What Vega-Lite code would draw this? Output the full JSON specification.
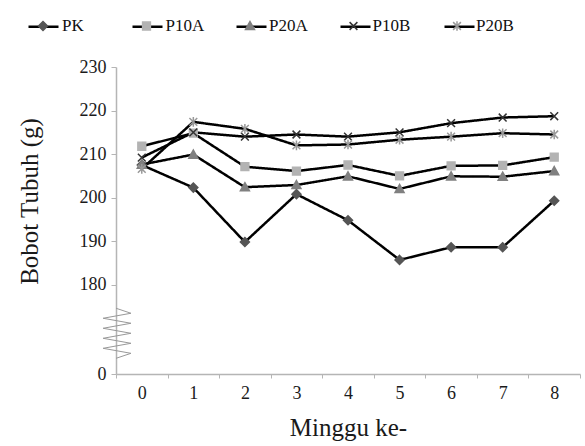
{
  "$schema": "https://vega.github.io/schema/vega-lite/v6.json",
  "width": 464,
  "height": 307,
  "autosize": "none",
  "padding": {"left": 116, "top": 67, "right": 5, "bottom": 72},
  "background": "white",
  "config": {"view": {"stroke": null}, "font": "Liberation Serif, Times New Roman, serif"},
  "datasets": {
    "main": [
      {"series": "PK", "week": 0, "value": 207.5}, {"series": "PK", "week": 1, "value": 202.3}, {"series": "PK", "week": 2, "value": 189.8}, {"series": "PK", "week": 3, "value": 200.8}, {"series": "PK", "week": 4, "value": 194.8}, {"series": "PK", "week": 5, "value": 185.7}, {"series": "PK", "week": 6, "value": 188.6}, {"series": "PK", "week": 7, "value": 188.6}, {"series": "PK", "week": 8, "value": 199.3},
      {"series": "P10A", "week": 0, "value": 211.8}, {"series": "P10A", "week": 1, "value": 214.8}, {"series": "P10A", "week": 2, "value": 207.1}, {"series": "P10A", "week": 3, "value": 206.1}, {"series": "P10A", "week": 4, "value": 207.5}, {"series": "P10A", "week": 5, "value": 205.0}, {"series": "P10A", "week": 6, "value": 207.3}, {"series": "P10A", "week": 7, "value": 207.4}, {"series": "P10A", "week": 8, "value": 209.3},
      {"series": "P20A", "week": 0, "value": 207.6}, {"series": "P20A", "week": 1, "value": 209.9}, {"series": "P20A", "week": 2, "value": 202.4}, {"series": "P20A", "week": 3, "value": 202.9}, {"series": "P20A", "week": 4, "value": 204.9}, {"series": "P20A", "week": 5, "value": 202.0}, {"series": "P20A", "week": 6, "value": 204.9}, {"series": "P20A", "week": 7, "value": 204.8}, {"series": "P20A", "week": 8, "value": 206.1},
      {"series": "P10B", "week": 0, "value": 209.2}, {"series": "P10B", "week": 1, "value": 215.0}, {"series": "P10B", "week": 2, "value": 214.0}, {"series": "P10B", "week": 3, "value": 214.5}, {"series": "P10B", "week": 4, "value": 214.0}, {"series": "P10B", "week": 5, "value": 215.0}, {"series": "P10B", "week": 6, "value": 217.1}, {"series": "P10B", "week": 7, "value": 218.4}, {"series": "P10B", "week": 8, "value": 218.7},
      {"series": "P20B", "week": 0, "value": 206.6}, {"series": "P20B", "week": 1, "value": 217.4}, {"series": "P20B", "week": 2, "value": 215.8}, {"series": "P20B", "week": 3, "value": 212.0}, {"series": "P20B", "week": 4, "value": 212.2}, {"series": "P20B", "week": 5, "value": 213.3}, {"series": "P20B", "week": 6, "value": 214.0}, {"series": "P20B", "week": 7, "value": 214.8}, {"series": "P20B", "week": 8, "value": 214.5}
    ],
    "zig": [
      {"i": 0, "x": -0.5, "value": 174.6},
      {"i": 1, "x": -0.21, "value": 173.45},
      {"i": 2, "x": -0.75, "value": 172.3},
      {"i": 3, "x": -0.21, "value": 171.15},
      {"i": 4, "x": -0.75, "value": 170.0},
      {"i": 5, "x": -0.21, "value": 168.85},
      {"i": 6, "x": -0.75, "value": 167.7},
      {"i": 7, "x": -0.21, "value": 166.55},
      {"i": 8, "x": -0.75, "value": 165.4},
      {"i": 9, "x": -0.21, "value": 164.25},
      {"i": 10, "x": -0.5, "value": 163.1}
    ]
  },
  "resolve": {"scale": {"x": "independent"}},
  "layer": [
    {
      "data": {"name": "main"},
      "mark": {"type": "line", "color": "black", "strokeWidth": 2.5},
      "encoding": {
        "x": {
          "field": "week", "type": "ordinal",
          "scale": {"type": "band", "paddingInner": 0, "paddingOuter": 0},
          "axis": {
            "title": "Minggu ke-", "tickBand": "extent", "labelAngle": 0,
            "domainColor": "#b5b5b5", "domainWidth": 1.5, "tickColor": "#b5b5b5", "tickSize": 4,
            "labelFont": "Liberation Serif, Times New Roman, serif", "labelFontSize": 18, "labelColor": "#1a1a1a", "labelPadding": 6,
            "titleFont": "Liberation Serif, Times New Roman, serif", "titleFontSize": 25, "titleFontWeight": "normal", "titleColor": "#1a1a1a", "titlePadding": 13
          }
        },
        "y": {
          "field": "value", "type": "quantitative",
          "scale": {"domain": [159.5, 230], "zero": false, "nice": false},
          "axis": {
            "title": "Bobot Tubuh (g)", "values": [159.5, 180, 190, 200, 210, 220, 230],
            "labelExpr": "datum.value < 170 ? '0' : datum.label", "grid": false,
            "domainColor": "#b5b5b5", "domainWidth": 1.5, "tickColor": "#b5b5b5", "tickSize": 5,
            "labelFont": "Liberation Serif, Times New Roman, serif", "labelFontSize": 18, "labelColor": "#1a1a1a", "labelPadding": 5,
            "titleFont": "Liberation Serif, Times New Roman, serif", "titleFontSize": 25, "titleFontWeight": "normal", "titleColor": "#1a1a1a",
            "titlePadding": 37, "titleY": 134
          }
        },
        "strokeDash": {
          "field": "series", "type": "nominal",
          "sort": ["PK", "P10A", "P20A", "P10B", "P20B"],
          "scale": {"range": [[1, 0], [1, 0], [1, 0], [1, 0], [1, 0]]},
          "legend": {
            "orient": "none", "legendX": -89, "legendY": -57, "direction": "horizontal", "title": null,
            "symbolType": "stroke", "symbolSize": 900, "symbolStrokeColor": "black", "symbolStrokeWidth": 2.5,
            "labelExpr": "''", "labelFontSize": 17, "labelOffset": 0,
            "gridAlign": "all", "columnPadding": 63, "padding": 0, "zindex": 1
          }
        }
      }
    },
    {
      "data": {"name": "main"},
      "mark": {"type": "point", "filled": true, "size": 900, "strokeWidth": 1.5, "opacity": 1},
      "encoding": {
        "x": {"field": "week", "type": "ordinal", "scale": {"type": "band", "paddingInner": 0, "paddingOuter": 0}, "axis": null},
        "y": {"field": "value", "type": "quantitative", "title": "Bobot Tubuh (g)"},
        "shape": {
          "field": "series", "type": "nominal",
          "scale": {
            "domain": ["PK", "P10A", "P20A", "P10B", "P20B"],
            "range": [
              "M0,-0.3L0.3,0L0,0.3L-0.3,0Z",
              "M-0.26,-0.26H0.26V0.26H-0.26Z",
              "M0,-0.3L0.3,0.24H-0.3Z",
              "M-0.26,-0.26L0.26,0.26M-0.26,0.26L0.26,-0.26",
              "M-0.26,-0.26L0.26,0.26M-0.26,0.26L0.26,-0.26M0,-0.32V0.32"
            ]
          },
          "legend": {
            "orient": "none", "legendX": -89, "legendY": -57, "direction": "horizontal", "title": null,
            "symbolSize": 900, "symbolStrokeWidth": 1.5, "symbolOpacity": 1,
            "labelFont": "Liberation Serif, Times New Roman, serif", "labelFontSize": 17, "labelColor": "#111", "labelOffset": 3,
            "gridAlign": "all", "columnPadding": 29.5, "padding": 0, "zindex": 2
          }
        },
        "fill": {
          "field": "series", "type": "nominal",
          "scale": {"domain": ["PK", "P10A", "P20A", "P10B", "P20B"], "range": ["#555555", "#b3b3b3", "#808080", "transparent", "transparent"]},
          "legend": {
            "orient": "none", "legendX": -89, "legendY": -57, "direction": "horizontal", "title": null,
            "symbolSize": 900, "symbolStrokeWidth": 1.5, "symbolOpacity": 1,
            "labelFont": "Liberation Serif, Times New Roman, serif", "labelFontSize": 17, "labelColor": "#111", "labelOffset": 3,
            "gridAlign": "all", "columnPadding": 29.5, "padding": 0, "zindex": 2
          }
        },
        "stroke": {
          "field": "series", "type": "nominal",
          "scale": {"domain": ["PK", "P10A", "P20A", "P10B", "P20B"], "range": ["#555555", "#b3b3b3", "#808080", "#333333", "#999999"]},
          "legend": {
            "orient": "none", "legendX": -89, "legendY": -57, "direction": "horizontal", "title": null,
            "symbolSize": 900, "symbolStrokeWidth": 1.5, "symbolOpacity": 1,
            "labelFont": "Liberation Serif, Times New Roman, serif", "labelFontSize": 17, "labelColor": "#111", "labelOffset": 3,
            "gridAlign": "all", "columnPadding": 29.5, "padding": 0, "zindex": 2
          }
        }
      }
    },
    {
      "data": {"name": "zig"},
      "mark": {"type": "line", "color": "#999999", "strokeWidth": 1},
      "encoding": {
        "x": {"field": "x", "type": "quantitative", "scale": {"domain": [-0.5, 8.5], "nice": false, "zero": false}, "axis": null},
        "y": {"field": "value", "type": "quantitative", "title": "Bobot Tubuh (g)"},
        "order": {"field": "i", "type": "quantitative"}
      }
    }
  ]
}
